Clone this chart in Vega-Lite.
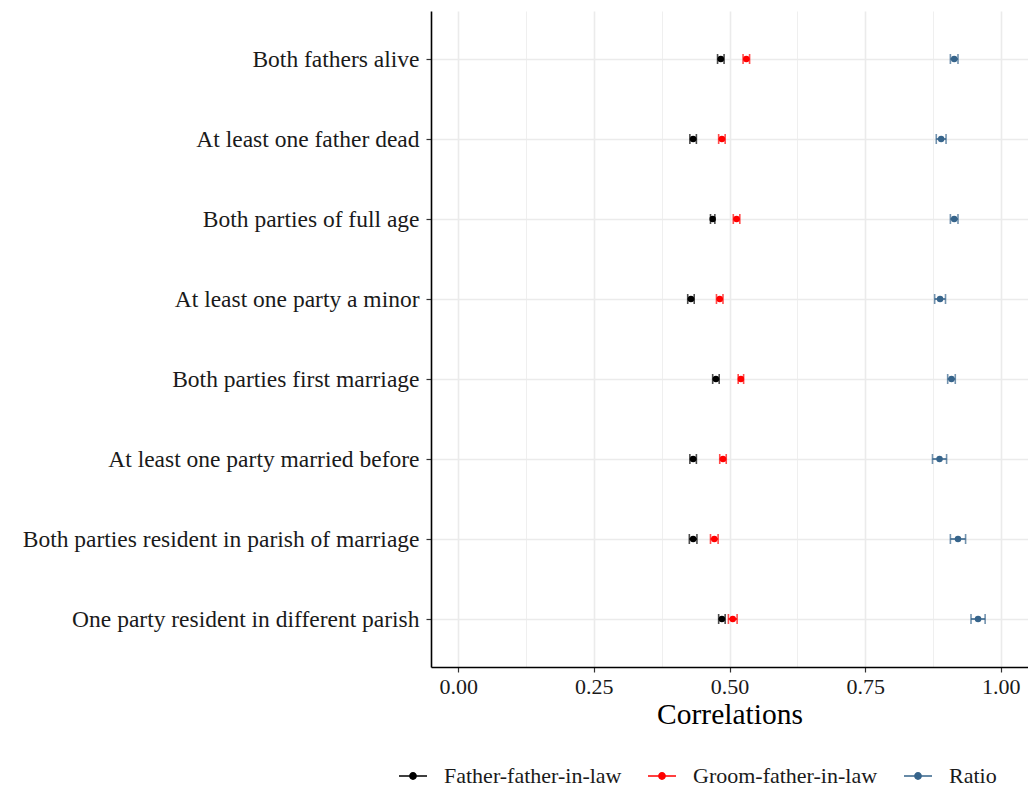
{
  "$schema": "https://vega.github.io/schema/vega-lite/v6.json",
  "width": 597,
  "height": 656,
  "autosize": {"type": "none"},
  "padding": {"left": 431, "top": 11, "right": 0, "bottom": 120},
  "background": "white",
  "config": {
    "view": {"stroke": null},
    "font": "Liberation Serif"
  },
  "data": {
    "values": [
      {"condition": "Both fathers alive", "series": "Father-father-in-law", "est": 0.484, "lo": 0.478, "hi": 0.490},
      {"condition": "Both fathers alive", "series": "Groom-father-in-law", "est": 0.531, "lo": 0.525, "hi": 0.537},
      {"condition": "Both fathers alive", "series": "Ratio", "est": 0.914, "lo": 0.907, "hi": 0.921},
      {"condition": "At least one father dead", "series": "Father-father-in-law", "est": 0.433, "lo": 0.427, "hi": 0.439},
      {"condition": "At least one father dead", "series": "Groom-father-in-law", "est": 0.486, "lo": 0.480, "hi": 0.492},
      {"condition": "At least one father dead", "series": "Ratio", "est": 0.890, "lo": 0.881, "hi": 0.899},
      {"condition": "Both parties of full age", "series": "Father-father-in-law", "est": 0.469, "lo": 0.465, "hi": 0.473},
      {"condition": "Both parties of full age", "series": "Groom-father-in-law", "est": 0.513, "lo": 0.507, "hi": 0.519},
      {"condition": "Both parties of full age", "series": "Ratio", "est": 0.914, "lo": 0.907, "hi": 0.921},
      {"condition": "At least one party a minor", "series": "Father-father-in-law", "est": 0.429, "lo": 0.423, "hi": 0.435},
      {"condition": "At least one party a minor", "series": "Groom-father-in-law", "est": 0.482, "lo": 0.476, "hi": 0.488},
      {"condition": "At least one party a minor", "series": "Ratio", "est": 0.888, "lo": 0.878, "hi": 0.898},
      {"condition": "Both parties first marriage", "series": "Father-father-in-law", "est": 0.475, "lo": 0.469, "hi": 0.481},
      {"condition": "Both parties first marriage", "series": "Groom-father-in-law", "est": 0.521, "lo": 0.516, "hi": 0.526},
      {"condition": "Both parties first marriage", "series": "Ratio", "est": 0.909, "lo": 0.902, "hi": 0.916},
      {"condition": "At least one party married before", "series": "Father-father-in-law", "est": 0.433, "lo": 0.427, "hi": 0.439},
      {"condition": "At least one party married before", "series": "Groom-father-in-law", "est": 0.488, "lo": 0.482, "hi": 0.494},
      {"condition": "At least one party married before", "series": "Ratio", "est": 0.887, "lo": 0.874, "hi": 0.900},
      {"condition": "Both parties resident in parish of marriage", "series": "Father-father-in-law", "est": 0.433, "lo": 0.426, "hi": 0.440},
      {"condition": "Both parties resident in parish of marriage", "series": "Groom-father-in-law", "est": 0.472, "lo": 0.465, "hi": 0.479},
      {"condition": "Both parties resident in parish of marriage", "series": "Ratio", "est": 0.921, "lo": 0.907, "hi": 0.935},
      {"condition": "One party resident in different parish", "series": "Father-father-in-law", "est": 0.486, "lo": 0.480, "hi": 0.492},
      {"condition": "One party resident in different parish", "series": "Groom-father-in-law", "est": 0.506, "lo": 0.498, "hi": 0.514},
      {"condition": "One party resident in different parish", "series": "Ratio", "est": 0.958, "lo": 0.945, "hi": 0.971}
    ]
  },
  "encoding": {
    "y": {
      "field": "condition",
      "type": "nominal",
      "sort": [
        "Both fathers alive",
        "At least one father dead",
        "Both parties of full age",
        "At least one party a minor",
        "Both parties first marriage",
        "At least one party married before",
        "Both parties resident in parish of marriage",
        "One party resident in different parish"
      ],
      "scale": {"type": "point", "padding": 0.6},
      "axis": {
        "title": null,
        "labelFont": "Liberation Serif",
        "labelFontSize": 23.5,
        "labelColor": "#1a1a1a",
        "labelLimit": 0,
        "labelPadding": 7,
        "tickSize": 5,
        "tickColor": "#333333",
        "tickWidth": 1.2,
        "domainColor": "#000000",
        "domainWidth": 1.6,
        "grid": true,
        "gridColor": "#EBEBEB",
        "gridWidth": 1.6
      }
    },
    "color": {
      "field": "series",
      "type": "nominal",
      "scale": {
        "domain": ["Father-father-in-law", "Groom-father-in-law", "Ratio"],
        "range": ["#000000", "#FF0000", "#36648B"]
      },
      "legend": {
        "title": null,
        "orient": "none",
        "direction": "horizontal",
        "legendX": -33,
        "legendY": 750,
        "labelFont": "Liberation Serif",
        "labelFontSize": 22,
        "labelColor": "#1a1a1a",
        "labelLimit": 0,
        "labelOffset": 16,
        "columnPadding": 22,
        "symbolType": "M-1,0H1M-0.22,0A0.22,0.22,0,1,0,0.22,0A0.22,0.22,0,1,0,-0.22,0Z",
        "symbolSize": 784,
        "symbolStrokeWidth": 1.6,
        "symbolOpacity": 1
      }
    }
  },
  "layer": [
    {
      "mark": {"type": "rule", "strokeWidth": 1.6},
      "encoding": {
        "x": {
          "field": "lo",
          "type": "quantitative",
          "scale": {"domain": [-0.05, 1.05], "nice": false, "zero": false},
          "axis": {
            "title": "Correlations",
            "titleFont": "Liberation Serif",
            "titleFontSize": 29.5,
            "titleFontWeight": "normal",
            "titleColor": "#000000",
            "titlePadding": 3,
            "values": [0, 0.125, 0.25, 0.375, 0.5, 0.625, 0.75, 0.875, 1],
            "labelExpr": "round(datum.value*8)%2==0 ? format(datum.value,'.2f') : ''",
            "labelFont": "Liberation Serif",
            "labelFontSize": 22,
            "labelColor": "#1a1a1a",
            "labelPadding": 4,
            "labelFlush": false,
            "tickSize": 5,
            "tickColor": "#333333",
            "tickWidth": 1.2,
            "tickOpacity": {"condition": {"test": "round(datum.value*8)%2==1", "value": 0}, "value": 1},
            "domainColor": "#000000",
            "domainWidth": 1.6,
            "grid": true,
            "gridColor": "#EBEBEB",
            "gridWidth": {"condition": {"test": "round(datum.value*8)%2==1", "value": 0.8}, "value": 1.6}
          }
        },
        "x2": {"field": "hi"}
      }
    },
    {
      "mark": {"type": "tick", "orient": "vertical", "size": 10, "thickness": 1.6},
      "encoding": {
        "x": {"field": "lo", "type": "quantitative"}
      }
    },
    {
      "mark": {"type": "tick", "orient": "vertical", "size": 10, "thickness": 1.6},
      "encoding": {
        "x": {"field": "hi", "type": "quantitative"}
      }
    },
    {
      "mark": {"type": "point", "filled": true, "opacity": 1, "size": 42, "shape": "circle"},
      "encoding": {
        "x": {"field": "est", "type": "quantitative"}
      }
    }
  ]
}
